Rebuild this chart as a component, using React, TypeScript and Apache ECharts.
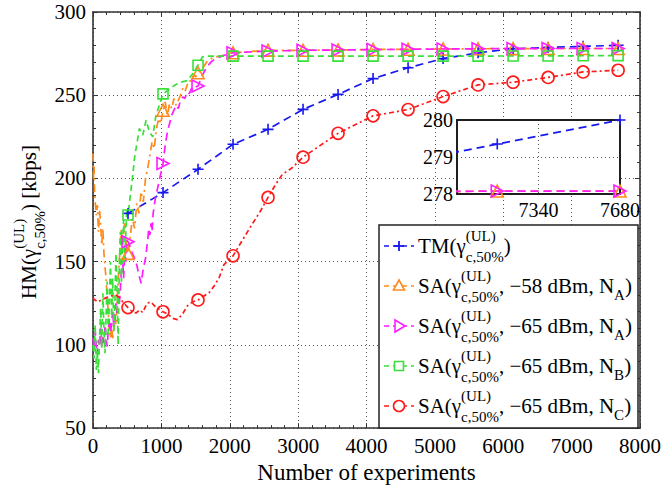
import React, { useEffect, useRef } from 'react';
import * as echarts from 'echarts';

const FONT = "'Liberation Serif', 'Times New Roman', serif";

// X tick labels / ranges
const xTicks = [0, 1000, 2000, 3000, 4000, 5000, 6000, 7000, 8000];
const yTicks = [50, 100, 150, 200, 250, 300];
const insetXTicks = [7340, 7680];
const insetYTicks = [278, 279, 280];

// TM(γ) — blue
const tmX = [512, 1024, 1536, 2048, 2560, 3072, 3584, 4096, 4608, 5120, 5632, 6144, 6656, 7168, 7680];
const tmY = [179, 191.5, 205.5, 220.5, 229.5, 241.5, 250.5, 260, 266.5, 272, 275.5, 277.9, 278.7, 279.35, 280];

// SA(γ, −58 dBm, N_A) — orange
const saA58X = [0, 8, 16, 24, 32, 48, 64, 80, 96, 112, 128, 144, 160, 176, 192, 208, 224, 240, 256, 272, 288, 304, 320, 336, 352, 368, 384, 400, 416, 432, 448, 464, 480, 496, 512,
  544, 576, 608, 640, 672, 704, 736, 768, 800, 832, 864, 896, 928, 960, 992, 1024, 1056, 1088, 1120, 1152, 1184, 1216, 1248, 1280, 1312, 1344, 1376, 1408, 1440, 1472,
  1504, 1536, 1600, 1664, 1728, 1792, 1856, 1920, 2048, 2560, 3072, 3584, 4096, 4608, 5120, 5632, 6144, 6656, 7168, 7680];
const saA58Y = [215, 200, 207, 192, 186, 178, 184, 168, 181, 172, 160, 170, 155, 147, 139, 128, 119, 108, 104, 112, 103, 110, 118, 112, 125, 139, 150, 162, 170, 159, 168, 173, 163, 158, 155,
  165, 176, 170, 185, 179, 192, 186, 200, 206, 214, 222, 218, 230, 236, 233, 241, 246, 238, 245, 242, 248, 244, 247, 250, 254, 252, 256, 259, 258, 262,
  261, 263.5, 266, 270, 272, 273, 273.5, 274, 275.5, 277, 277, 277.2, 277.5, 277.6, 277.8, 277.9, 278, 278.05, 278.08, 278.08];

// SA(γ, −65 dBm, N_A) — magenta
const saA65X = [0, 16, 32, 48, 64, 80, 96, 112, 128, 144, 160, 176, 192, 208, 224, 240, 256, 272, 288, 304, 320, 336, 352, 368, 384, 400, 416, 432, 448, 464, 480, 496, 512,
  544, 576, 608, 640, 672, 704, 736, 768, 800, 816, 832, 848, 864, 880, 912, 944, 976, 1024, 1056, 1088, 1120, 1152, 1184, 1216, 1248, 1280, 1312, 1344, 1376, 1408,
  1440, 1472, 1504, 1536, 1600, 1664, 1728, 1792, 1856, 1920, 2048, 2560, 3072, 3584, 4096, 4608, 5120, 5632, 6144, 6656, 7168, 7680];
const saA65Y = [104, 97, 108, 100, 94, 103, 99, 110, 98, 106, 101, 112, 104, 99, 109, 116, 107, 113, 120, 111, 118, 125, 119, 128, 124, 133, 145, 152, 140, 158, 150, 163, 162,
  159, 155, 152, 148, 142, 137, 146, 152, 163, 170, 166, 173, 168, 179, 188, 194, 200, 209, 220, 228, 233, 238, 241, 244, 242, 247, 249, 248, 252, 251,
  254, 253, 255, 255.5, 262, 267, 270, 272, 273, 274, 275.5, 276.5, 277, 277.2, 277.4, 277.6, 277.8, 277.9, 278, 278.05, 278.08, 278.08];

// SA(γ, −65 dBm, N_B) — green
const saB65X = [0, 16, 32, 48, 64, 80, 96, 112, 128, 144, 160, 176, 192, 208, 224, 240, 256, 272, 288, 304, 320, 336, 352, 368, 384, 400, 416, 432, 448, 464, 480, 496, 512,
  558, 582, 606, 630, 679, 728, 776, 824, 873, 921, 970, 1024, 1091, 1188, 1285, 1382, 1455, 1536, 1600, 1660, 1720, 1800, 2048, 2560, 3072, 3584, 4096, 4608, 5120, 5632,
  6144, 6656, 7168, 7680];
const saB65Y = [100, 92, 112, 85, 96, 83, 105, 122, 98, 131, 110, 95, 118, 138, 105, 128, 150, 117, 140, 108, 125, 155, 132, 100, 145, 168, 138, 160, 175, 150, 168, 182, 178,
  194, 202, 212, 218, 230, 226, 235, 228, 225, 238, 244, 250.8, 252.8, 255.8, 257.8, 258.8, 262.7, 268, 273, 273.5, 273.5, 273.5, 273.5, 273.5, 273.5, 273.5, 273.5, 273.5, 273.5, 273.5,
  273.6, 273.6, 273.7, 273.8];

// SA(γ, −65 dBm, N_C) — red
const saC65X = [0, 15, 73, 121, 194, 267, 340, 388, 436, 512, 558, 630, 679, 727, 790, 848, 897, 945, 1024, 1091,
  1164, 1236, 1309, 1382, 1455, 1536, 1624, 1697, 1770, 1843, 1915, 2048, 2186, 2332, 2453, 2560, 2672, 2768, 2913, 3072,
  3584, 4096, 4608, 5120, 5632, 6144, 6656, 7168, 7680];
const saC65Y = [128.4, 127.4, 125.8, 127, 128.4, 129.4, 129.8, 128.4, 125.8, 122.4, 120.5, 119.1, 121, 119.5, 125, 125.8, 123.5, 121.9, 119.9, 118.5,
  116, 115.2, 118.5, 123.5, 125.8, 127, 129.4, 131.3, 135.3, 140.2, 148.2, 153.5, 163, 172.8, 180.7, 188.6, 196.5, 202.4, 206.4, 212.8,
  227.1, 237.6, 241.4, 249.2, 256.2, 257.8, 260.7, 264, 265];

const C_BLUE = '#1818f0';
const C_ORANGE = '#ff8a1c';
const C_MAGENTA = '#ff1cff';
const C_GREEN = '#3ae03a';
const C_RED = '#ff1a1a';

const PLUS = 'path://M5,0 L5,10 M0,5 L10,5';

let measureCtx: CanvasRenderingContext2D | null = null;
function tw(s: string, size: number): number {
  if (!measureCtx) measureCtx = document.createElement('canvas').getContext('2d');
  if (!measureCtx) return s.length * size * 0.5;
  measureCtx.font = `${size}px ${FONT}`;
  return measureCtx.measureText(s).width;
}

type Part = { t?: string; sup?: string; sub?: string; s?: string };

function txt(x: number, y: number, text: string, size: number, z: number) {
  return {
    type: 'text', x, y, z,
    style: { text, font: `${size}px ${FONT}`, fill: '#000', align: 'left', verticalAlign: 'middle' },
  };
}

function richRow(x0: number, yMid: number, parts: Part[], size: number, small: number, supDy: number, subDy: number, z: number) {
  const els: any[] = [];
  let x = x0;
  for (const p of parts) {
    if (p.t !== undefined) {
      els.push(txt(x, yMid, p.t, size, z));
      x += tw(p.t, size);
    } else if (p.sup !== undefined) {
      els.push(txt(x, yMid + supDy, p.sup, small, z));
      els.push(txt(x, yMid + subDy, p.sub || '', small, z));
      x += Math.max(tw(p.sup, small), tw(p.sub || '', small));
    } else if (p.s !== undefined) {
      els.push(txt(x, yMid + subDy * 0.85, p.s, small, z));
      x += tw(p.s, small);
    }
  }
  return { els, width: x - x0 };
}

function buildData(xs: number[], ys: number[]) {
  return xs.map((x, i) => (x > 0 && x % 512 === 0 ? [x, ys[i]] : { value: [x, ys[i]], symbol: 'none' }));
}

const plain = (v: number) => String(v);

function buildOption() {
  const gridLine = { show: true, lineStyle: { color: '#555', width: 1, type: [1, 3] } };
  const axisLine = { show: true, onZero: false, lineStyle: { color: '#333', width: 1.6 } };
  const tick = { show: true, inside: true, length: 5, lineStyle: { color: '#333', width: 1 } };
  const minor = { show: true, splitNumber: 5, length: 3, lineStyle: { color: '#333', width: 1 } };
  const lbl = { fontSize: 21, fontFamily: FONT, color: '#000', formatter: plain };

  const mkSeries = (name: string, xs: number[], ys: number[], color: string, dash: number[], symbol: string, size: number, rotate: number, xi: number, yi: number, z: number) => ({
    type: 'line', name, xAxisIndex: xi, yAxisIndex: yi, z,
    data: buildData(xs, ys),
    showSymbol: true, showAllSymbol: true, symbol, symbolSize: size, symbolRotate: rotate,
    lineStyle: { color, width: 1.7, type: dash },
    itemStyle: { color: 'transparent', borderColor: color, borderWidth: 1.6 },
    emphasis: { disabled: true },
    clip: true,
  });

  const insetFilter = (xs: number[], ys: number[]) => {
    const ox: number[] = []; const oy: number[] = [];
    xs.forEach((x, i) => { if (x >= 6656) { ox.push(x); oy.push(ys[i]); } });
    return [ox, oy];
  };
  const [tmIX, tmIY] = insetFilter(tmX, tmY);
  const [oIX, oIY] = insetFilter(saA58X, saA58Y);
  const [mIX, mIY] = insetFilter(saA65X, saA65Y);

  // Legend
  const LX = 379, LY = 225, LW = 259, LH = 203;
  const rowsY = [246, 286, 326, 366, 406];
  const gam = { sup: '(UL)', sub: 'c,50%' };
  const rowParts: Part[][] = [
    [{ t: 'TM(γ' }, gam, { t: ')' }],
    [{ t: 'SA(γ' }, gam, { t: ', −58 dBm, N' }, { s: 'A' }, { t: ')' }],
    [{ t: 'SA(γ' }, gam, { t: ', −65 dBm, N' }, { s: 'A' }, { t: ')' }],
    [{ t: 'SA(γ' }, gam, { t: ', −65 dBm, N' }, { s: 'B' }, { t: ')' }],
    [{ t: 'SA(γ' }, gam, { t: ', −65 dBm, N' }, { s: 'C' }, { t: ')' }],
  ];
  const colors = [C_BLUE, C_ORANGE, C_MAGENTA, C_GREEN, C_RED];
  const legendEls: any[] = [
    { type: 'rect', z: 20, shape: { x: LX, y: LY, width: LW, height: LH }, style: { fill: '#fff', stroke: '#222', lineWidth: 1.5 } },
  ];
  rowsY.forEach((cy, i) => {
    const c = colors[i];
    legendEls.push({ type: 'line', z: 21, shape: { x1: 384, y1: cy, x2: 414, y2: cy }, style: { stroke: c, lineWidth: 1.7, lineDash: [5, 4] } });
    const mx = 399;
    const st = { stroke: c, lineWidth: 1.6, fill: '#fff' };
    if (i === 0) {
      legendEls.push({ type: 'line', z: 22, shape: { x1: mx - 5, y1: cy, x2: mx + 5, y2: cy }, style: { stroke: c, lineWidth: 1.8 } });
      legendEls.push({ type: 'line', z: 22, shape: { x1: mx, y1: cy - 5, x2: mx, y2: cy + 5 }, style: { stroke: c, lineWidth: 1.8 } });
    } else if (i === 1) {
      legendEls.push({ type: 'polygon', z: 22, shape: { points: [[mx, cy - 6], [mx + 5.5, cy + 4], [mx - 5.5, cy + 4]] }, style: st });
    } else if (i === 2) {
      legendEls.push({ type: 'polygon', z: 22, shape: { points: [[mx - 4, cy - 6], [mx + 6, cy], [mx - 4, cy + 6]] }, style: st });
    } else if (i === 3) {
      legendEls.push({ type: 'rect', z: 22, shape: { x: mx - 4.5, y: cy - 4.5, width: 9, height: 9 }, style: st });
    } else {
      legendEls.push({ type: 'circle', z: 22, shape: { cx: mx, cy, r: 5.5 }, style: st });
    }
    const r = richRow(418, cy, rowParts[i], 21, 15, -10, 11, 22);
    legendEls.push(...r.els);
  });

  // Y axis title (rotated)
  const yt = richRow(0, 0, [{ t: 'HM(γ' }, gam, { t: ') [kbps]' }], 21, 15, -10, 11, 5);
  const yTitle = {
    type: 'group', x: 29, y: 222, rotation: Math.PI / 2,
    children: yt.els.map((e: any) => ({ ...e, x: e.x - yt.width / 2 })),
  };

  // inset background
  const insetBg = { type: 'rect', z: 1, shape: { x: 457, y: 120, width: 163, height: 74 }, style: { fill: '#fff', stroke: '#111', lineWidth: 1.5 } };

  return {
    animation: false,
    backgroundColor: '#fff',
    grid: [
      { left: 93, top: 12, right: 21, bottom: 55, containLabel: false },
      { left: 457, top: 120, width: 163, height: 74, containLabel: false },
    ],
    xAxis: [
      {
        type: 'value', gridIndex: 0, min: xTicks[0], max: xTicks[xTicks.length - 1], interval: 1000, position: 'bottom',
        axisLine, axisTick: tick, minorTick: minor, splitLine: gridLine,
        axisLabel: { ...lbl, margin: 7 },
        name: 'Number of experiments', nameLocation: 'middle', nameGap: 31,
        nameTextStyle: { fontSize: 23, fontFamily: FONT, color: '#000' },
      },
      {
        type: 'value', gridIndex: 0, min: xTicks[0], max: xTicks[xTicks.length - 1], interval: 1000, position: 'top',
        axisLine, axisTick: tick, minorTick: minor, splitLine: { show: false }, axisLabel: { show: false },
      },
      {
        type: 'value', gridIndex: 1, min: 7000, max: 7680, position: 'bottom', z: 3,
        axisLine: { show: true, onZero: false, lineStyle: { color: '#111', width: 1.5 } },
        axisTick: { show: false, customValues: insetXTicks },
        axisLabel: { ...lbl, fontSize: 20, margin: 6, customValues: insetXTicks },
        splitLine: { show: true, lineStyle: { color: '#555', width: 1, type: [1, 3] } },
      },
      {
        type: 'value', gridIndex: 1, min: 7000, max: 7680, position: 'top', z: 3,
        axisLine: { show: true, onZero: false, lineStyle: { color: '#111', width: 1.5 } },
        axisTick: { show: false }, axisLabel: { show: false }, splitLine: { show: false },
      },
    ],
    yAxis: [
      {
        type: 'value', gridIndex: 0, min: yTicks[0], max: yTicks[yTicks.length - 1], interval: 50, position: 'left',
        axisLine, axisTick: tick, minorTick: minor, splitLine: gridLine,
        axisLabel: { ...lbl, margin: 7 },
      },
      {
        type: 'value', gridIndex: 0, min: yTicks[0], max: yTicks[yTicks.length - 1], interval: 50, position: 'right',
        axisLine, axisTick: tick, minorTick: minor, splitLine: { show: false }, axisLabel: { show: false },
      },
      {
        type: 'value', gridIndex: 1, min: insetYTicks[0], max: insetYTicks[insetYTicks.length - 1], interval: 1, position: 'left', z: 3,
        axisLine: { show: true, onZero: false, lineStyle: { color: '#111', width: 1.5 } },
        axisTick: { show: false },
        axisLabel: { ...lbl, fontSize: 20, margin: 4 },
        splitLine: { show: true, lineStyle: { color: '#555', width: 1, type: [1, 3] } },
      },
      {
        type: 'value', gridIndex: 1, min: insetYTicks[0], max: insetYTicks[insetYTicks.length - 1], interval: 1, position: 'right', z: 3,
        axisLine: { show: true, onZero: false, lineStyle: { color: '#111', width: 1.5 } },
        axisTick: { show: false }, axisLabel: { show: false }, splitLine: { show: false },
      },
    ],
    series: [
      mkSeries('TM', tmX, tmY, C_BLUE, [8, 5], PLUS, 11, 0, 0, 0, 2),
      mkSeries('SA58A', saA58X, saA58Y, C_ORANGE, [8, 4, 2, 4], 'triangle', 12, 0, 0, 0, 2),
      mkSeries('SA65A', saA65X, saA65Y, C_MAGENTA, [8, 5], 'triangle', 12, -90, 0, 0, 2),
      mkSeries('SA65B', saB65X, saB65Y, C_GREEN, [6, 4], 'rect', 10, 0, 0, 0, 2),
      mkSeries('SA65C', saC65X, saC65Y, C_RED, [5, 3, 2, 3], 'circle', 12, 0, 0, 0, 2),
      mkSeries('TM-inset', tmIX, tmIY, C_BLUE, [8, 5], PLUS, 11, 0, 2, 2, 4),
      mkSeries('SA58A-inset', oIX, oIY, C_ORANGE, [8, 5], 'triangle', 12, 0, 2, 2, 4),
      mkSeries('SA65A-inset', mIX, mIY, C_MAGENTA, [8, 5], 'triangle', 12, -90, 2, 2, 4),
    ],
    graphic: { elements: [insetBg, yTitle, ...legendEls] },
  };
}

export default function App() {
  const ref = useRef<HTMLDivElement>(null);
  useEffect(() => {
    if (!ref.current) return;
    const chart = echarts.init(ref.current, null, { renderer: 'svg' });
    chart.setOption(buildOption() as any);
    return () => chart.dispose();
  }, []);
  return <div ref={ref} style={{ position: 'fixed', left: 0, top: 0, width: 664, height: 489, background: '#fff' }} />;
}
